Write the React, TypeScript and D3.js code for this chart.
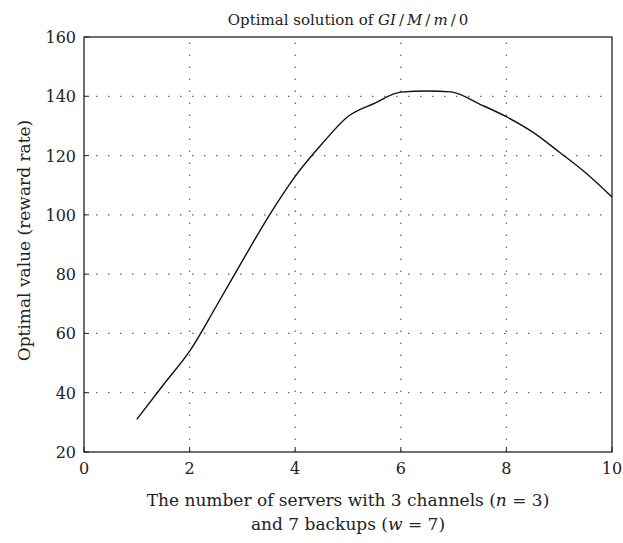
import { useEffect, useRef } from 'react'
import * as d3 from 'd3'

// servers (x) and optimal reward rate (y)
const servers = [1, 1.5, 2, 2.5, 3, 3.5, 4, 4.5, 5, 5.5, 6, 6.5, 6.95, 7.5, 8, 8.5, 9, 9.5, 10]
const rewardRate = [31, 42.6, 54, 69, 84.5, 99.6, 113, 123.8, 133.2, 137.6, 141.4, 141.8, 141.5, 137.3, 133.1, 127.9, 121.2, 114.2, 106]

const xTicks = [0, 2, 4, 6, 8, 10]
const yTicks = [20, 40, 60, 80, 100, 120, 140, 160]

const width = 623
const height = 543
const margin = { top: 37, right: 11, bottom: 91, left: 84 }
const font = '"DejaVu Serif", "Liberation Serif", serif'

export default function App() {
  const svgRef = useRef<SVGSVGElement>(null)

  useEffect(() => {
    if (!svgRef.current) return
    const svg = d3.select(svgRef.current)
    svg.selectAll('*').remove()

    const x = d3.scaleLinear().domain([0, 10]).range([margin.left, width - margin.right])
    const y = d3.scaleLinear().domain([20, 160]).range([height - margin.bottom, margin.top])

    const x0 = x(0), x1 = x(10), y0 = y(20), y1 = y(160)

    // dotted grid
    const grid = svg.append('g')
      .attr('stroke', '#666')
      .attr('stroke-width', 1.3)
      .attr('stroke-dasharray', '1.5,10.5')
    grid.selectAll('line.v')
      .data(xTicks.filter(t => t > 0 && t < 10))
      .enter().append('line')
      .attr('x1', d => x(d)).attr('x2', d => x(d))
      .attr('y1', y0).attr('y2', y1)
    grid.selectAll('line.h')
      .data(yTicks.filter(t => t > 20 && t < 160))
      .enter().append('line')
      .attr('y1', d => y(d)).attr('y2', d => y(d))
      .attr('x1', x0).attr('x2', x1)

    // ticks (inward)
    const ticks = svg.append('g').attr('stroke', '#222').attr('stroke-width', 1)
    ticks.selectAll('line.xt')
      .data(xTicks)
      .enter().append('line')
      .attr('x1', d => x(d)).attr('x2', d => x(d))
      .attr('y1', y0).attr('y2', y0 - 5)
    ticks.selectAll('line.yt')
      .data(yTicks)
      .enter().append('line')
      .attr('x1', x0).attr('x2', x0 + 5)
      .attr('y1', d => y(d)).attr('y2', d => y(d))

    // frame
    svg.append('rect')
      .attr('x', x0).attr('y', y1)
      .attr('width', x1 - x0).attr('height', y0 - y1)
      .attr('fill', 'none')
      .attr('stroke', '#222')
      .attr('stroke-width', 1.3)

    // tick labels
    svg.append('g').selectAll('text')
      .data(xTicks)
      .enter().append('text')
      .attr('x', d => x(d))
      .attr('y', y0 + 22)
      .attr('text-anchor', 'middle')
      .attr('font-family', font)
      .attr('font-size', 16)
      .attr('fill', '#222')
      .text(d => d)
    svg.append('g').selectAll('text')
      .data(yTicks)
      .enter().append('text')
      .attr('x', x0 - 8)
      .attr('y', d => y(d) + 6)
      .attr('text-anchor', 'end')
      .attr('font-family', font)
      .attr('font-size', 16)
      .attr('fill', '#222')
      .text(d => d)

    // curve
    const pts = servers.map((s, i) => [s, rewardRate[i]] as [number, number])
    const line = d3.line<[number, number]>()
      .x(d => x(d[0]))
      .y(d => y(d[1]))
      .curve(d3.curveMonotoneX)
    svg.append('path')
      .datum(pts)
      .attr('fill', 'none')
      .attr('stroke', '#111')
      .attr('stroke-width', 1.4)
      .attr('d', line)

    // title
    const title = svg.append('text')
      .attr('x', (x0 + x1) / 2)
      .attr('y', 25)
      .attr('text-anchor', 'middle')
      .attr('font-family', font)
      .attr('font-size', 15)
      .attr('fill', '#222')
    title.append('tspan').text('Optimal solution of ')
    title.append('tspan').attr('font-style', 'italic').text('GI')
    title.append('tspan').text('\u2009/\u2009')
    title.append('tspan').attr('font-style', 'italic').text('M')
    title.append('tspan').text('\u2009/\u2009')
    title.append('tspan').attr('font-style', 'italic').text('m')
    title.append('tspan').text('\u2009/\u20090')

    // x label
    const xl1 = svg.append('text')
      .attr('x', (x0 + x1) / 2)
      .attr('y', 506)
      .attr('text-anchor', 'middle')
      .attr('font-family', font)
      .attr('font-size', 17)
      .attr('fill', '#222')
    xl1.append('tspan').text('The number of servers with 3 channels (')
    xl1.append('tspan').attr('font-style', 'italic').text('n')
    xl1.append('tspan').text(' = 3)')
    const xl2 = svg.append('text')
      .attr('x', (x0 + x1) / 2)
      .attr('y', 530)
      .attr('text-anchor', 'middle')
      .attr('font-family', font)
      .attr('font-size', 17)
      .attr('fill', '#222')
    xl2.append('tspan').text('and 7 backups (')
    xl2.append('tspan').attr('font-style', 'italic').text('w')
    xl2.append('tspan').text(' = 7)')

    // y label
    svg.append('text')
      .attr('transform', `translate(30,${(y0 + y1) / 2 - 4}) rotate(-90)`)
      .attr('text-anchor', 'middle')
      .attr('font-family', font)
      .attr('font-size', 17)
      .attr('fill', '#222')
      .text('Optimal value (reward rate)')
  }, [])

  return (
    <svg
      ref={svgRef}
      width={width}
      height={height}
      style={{ position: 'absolute', left: 0, top: 0, background: '#fff' }}
    />
  )
}
